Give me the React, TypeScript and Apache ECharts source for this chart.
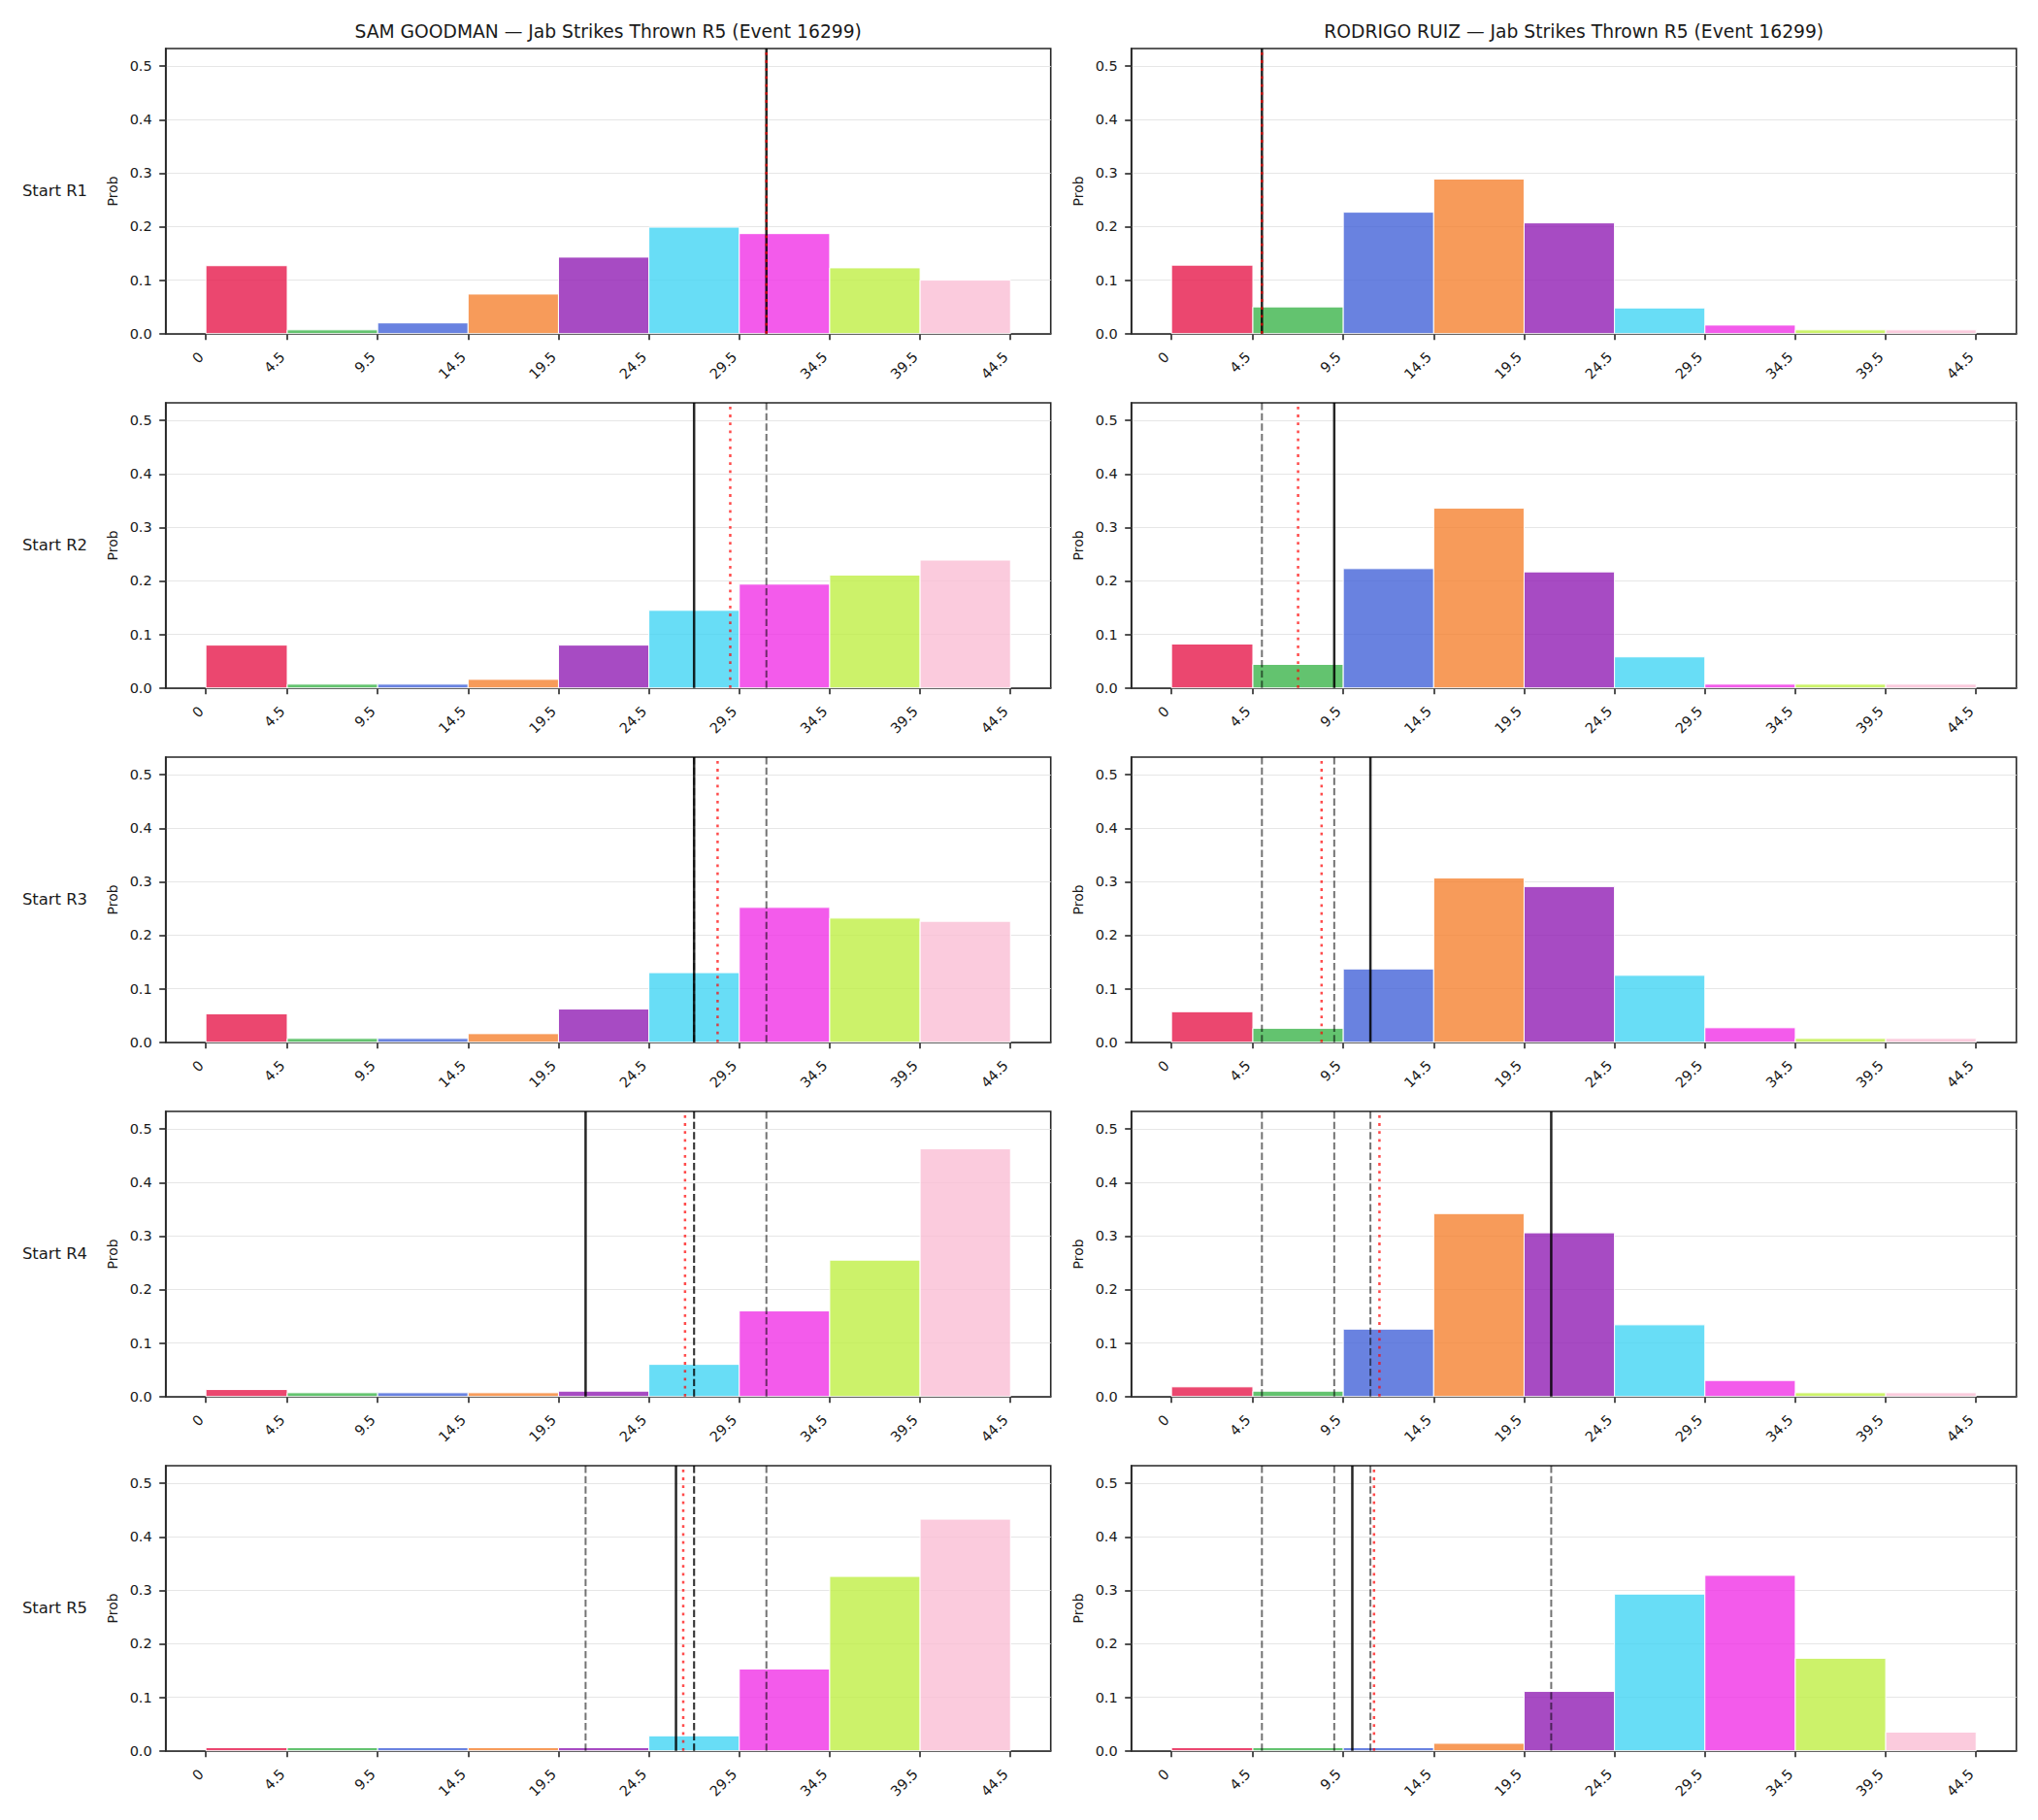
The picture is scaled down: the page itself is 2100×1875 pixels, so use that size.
import React, { useEffect, useRef } from 'react';
import * as echarts from 'echarts';

// Bin edges of the strike-count histogram (also the x tick positions)
const binEdges = [0, 4.5, 9.5, 14.5, 19.5, 24.5, 29.5, 34.5, 39.5, 44.5];
const binColors = ['#e6194b', '#3cb44b', '#4363d8', '#f58231', '#911eb4', '#42d4f4', '#f032e6', '#bfef45', '#fabed4'];
const roundLabels = ['Start R1', 'Start R2', 'Start R3', 'Start R4', 'Start R5'];
const yTicks = [0, 0.1, 0.2, 0.3, 0.4, 0.5];
const Y_MAX = 0.533;

const fighterNames = ['SAM GOODMAN', 'RODRIGO RUIZ'];
const titleSuffix = ' — Jab Strikes Thrown R5 (Event 16299)';

// Probability per bin, one list per starting round
const goodmanR1 = [0.127, 0.007, 0.020, 0.074, 0.143, 0.199, 0.187, 0.123, 0.100];
const goodmanR2 = [0.080, 0.007, 0.007, 0.016, 0.080, 0.145, 0.194, 0.211, 0.239];
const goodmanR3 = [0.053, 0.007, 0.007, 0.016, 0.062, 0.130, 0.252, 0.232, 0.226];
const goodmanR4 = [0.013, 0.007, 0.007, 0.007, 0.010, 0.060, 0.160, 0.255, 0.463];
const goodmanR5 = [0.006, 0.006, 0.006, 0.006, 0.006, 0.028, 0.153, 0.326, 0.433];

const ruizR1 = [0.128, 0.050, 0.227, 0.289, 0.207, 0.048, 0.016, 0.007, 0.007];
const ruizR2 = [0.082, 0.044, 0.223, 0.336, 0.217, 0.058, 0.007, 0.007, 0.007];
const ruizR3 = [0.057, 0.026, 0.137, 0.307, 0.291, 0.125, 0.027, 0.007, 0.007];
const ruizR4 = [0.018, 0.010, 0.126, 0.342, 0.306, 0.134, 0.030, 0.007, 0.007];
const ruizR5 = [0.006, 0.006, 0.006, 0.014, 0.111, 0.293, 0.328, 0.173, 0.035];

// Median (solid) and mean (dotted) of each distribution
const goodmanMedian = [31, 27, 27, 21, 26];
const goodmanMean = [31.0, 29.0, 28.3, 26.5, 26.4];
const ruizMedian = [5, 9, 11, 21, 10];
const ruizMean = [5.0, 7.0, 8.3, 11.5, 11.2];

const fighterProbs = [
  [goodmanR1, goodmanR2, goodmanR3, goodmanR4, goodmanR5],
  [ruizR1, ruizR2, ruizR3, ruizR4, ruizR5],
];
const fighterMedians = [goodmanMedian, ruizMedian];
const fighterMeans = [goodmanMean, ruizMean];

const FONT = 'DejaVu Sans';
const INK = '#262626';
const TEXT = '#1a1a1a';

const COL_LEFT = [170.7, 1165.7];
const GRID_W = 912;
const ROW_TOP0 = 50;
const ROW_PITCH = 365;
const GRID_H = 293.7;
const X_MIN = -2.225;
const X_MAX = 46.725;

function rgba(hex: string, a: number) {
  const n = parseInt(hex.slice(1), 16);
  return `rgba(${(n >> 16) & 255},${(n >> 8) & 255},${n & 255},${a})`;
}

function buildOption() {
  const grids: any[] = [];
  const xAxes: any[] = [];
  const yAxes: any[] = [];
  const series: any[] = [];
  const graphic: any[] = [];

  for (let col = 0; col < 2; col++) {
    graphic.push({
      type: 'text',
      x: COL_LEFT[col] + GRID_W / 2,
      y: 32,
      style: {
        text: fighterNames[col] + titleSuffix,
        fontSize: 18.7,
        fontFamily: FONT,
        fill: TEXT,
        align: 'center',
        verticalAlign: 'middle',
      },
    });
  }

  for (let row = 0; row < 5; row++) {
    const top = ROW_TOP0 + row * ROW_PITCH;
    graphic.push({
      type: 'text',
      x: 90,
      y: top + GRID_H / 2,
      style: {
        text: roundLabels[row],
        fontSize: 16.4,
        fontFamily: FONT,
        fill: TEXT,
        align: 'right',
        verticalAlign: 'middle',
      },
    });

    for (let col = 0; col < 2; col++) {
      const idx = row * 2 + col;
      const left = COL_LEFT[col];
      grids.push({
        left,
        top,
        width: GRID_W,
        height: GRID_H,
        show: true,
        borderColor: INK,
        borderWidth: 1.6,
        backgroundColor: 'transparent',
      });
      graphic.push({
        type: 'text',
        x: left - 54.4,
        y: top + GRID_H / 2,
        rotation: Math.PI / 2,
        style: {
          text: 'Prob',
          fontSize: 14,
          fontFamily: FONT,
          fill: TEXT,
          align: 'center',
          verticalAlign: 'middle',
        },
      });
      xAxes.push({
        type: 'value',
        gridIndex: idx,
        min: X_MIN,
        max: X_MAX,
        axisLine: { show: true, onZero: false, lineStyle: { color: INK, width: 1.6 } },
        axisTick: { show: true, length: 6.5, customValues: binEdges, lineStyle: { color: INK, width: 1.6 } },
        axisLabel: {
          show: true,
          customValues: binEdges,
          rotate: 45,
          margin: 16.5,
          padding: [0, 7, 0, 0],
          fontSize: 14.5,
          fontFamily: FONT,
          color: TEXT,
          formatter: (v: number) => (v === 0 ? '0' : v.toFixed(1)),
        },
        splitLine: { show: false },
      });
      yAxes.push({
        type: 'value',
        gridIndex: idx,
        min: 0,
        max: Y_MAX,
        interval: 0.1,
        axisLine: { show: true, onZero: false, lineStyle: { color: INK, width: 1.6 } },
        axisTick: { show: true, length: 6.5, customValues: yTicks, lineStyle: { color: INK, width: 1.6 } },
        axisLabel: {
          show: true,
          customValues: yTicks,
          margin: 14,
          fontSize: 14.5,
          fontFamily: FONT,
          color: TEXT,
          formatter: (v: number) => v.toFixed(1),
        },
        splitLine: { show: true, lineStyle: { color: '#e6e6e6', width: 1 } },
      });

      // Histogram bars: [binStart, binEnd, probability]
      const probs = fighterProbs[col][row];
      const barData = probs.map((p, i) => [binEdges[i], binEdges[i + 1], p]);
      series.push({
        type: 'custom',
        xAxisIndex: idx,
        yAxisIndex: idx,
        z: 2,
        silent: true,
        data: barData,
        renderItem: (params: any, api: any) => {
          const x0 = api.value(0);
          const x1 = api.value(1);
          const y = api.value(2);
          const pTop = api.coord([x0, y]);
          const pBot = api.coord([x1, 0]);
          return {
            type: 'rect',
            shape: { x: pTop[0], y: pTop[1], width: pBot[0] - pTop[0], height: pBot[1] - pTop[1] },
            style: { fill: rgba(binColors[params.dataIndex], 0.8), stroke: '#ffffff', lineWidth: 1 },
          };
        },
      });

      // Reference lines: earlier rounds' medians (dashed), this median (solid), this mean (dotted)
      const lineData: number[][] = [];
      for (let k = 0; k < row; k++) lineData.push([fighterMedians[col][k], 0]);
      lineData.push([fighterMedians[col][row], 1]);
      lineData.push([fighterMeans[col][row], 2]);
      series.push({
        type: 'custom',
        xAxisIndex: idx,
        yAxisIndex: idx,
        z: 5,
        silent: true,
        data: lineData,
        renderItem: (params: any, api: any) => {
          const x = api.value(0);
          const kind = api.value(1);
          const pBot = api.coord([x, 0]);
          const pTop = api.coord([x, Y_MAX]);
          let style: any;
          if (kind === 0) {
            style = { stroke: '#000000', opacity: 0.55, lineWidth: 2, lineDash: [7.4, 3.2] };
          } else if (kind === 1) {
            style = { stroke: '#000000', opacity: 0.85, lineWidth: 2.5 };
          } else {
            style = { stroke: '#ff0000', opacity: 0.7, lineWidth: 2.5, lineDash: [2.8, 5.4] };
          }
          return {
            type: 'line',
            shape: { x1: pBot[0], y1: pBot[1], x2: pTop[0], y2: pTop[1] },
            style,
          };
        },
      });
    }
  }

  return {
    animation: false,
    backgroundColor: '#ffffff',
    textStyle: { fontFamily: FONT },
    grid: grids,
    xAxis: xAxes,
    yAxis: yAxes,
    series,
    graphic,
  };
}

export default function App() {
  const ref = useRef<HTMLDivElement>(null);
  useEffect(() => {
    document.body.style.margin = '0';
    if (!ref.current) return;
    const chart = echarts.init(ref.current, undefined, { renderer: 'svg' });
    chart.setOption(buildOption() as any);
    return () => chart.dispose();
  }, []);
  return (
    <div
      ref={ref}
      style={{ position: 'fixed', left: 0, top: 0, width: 2100, height: 1875, background: '#ffffff' }}
    />
  );
}
